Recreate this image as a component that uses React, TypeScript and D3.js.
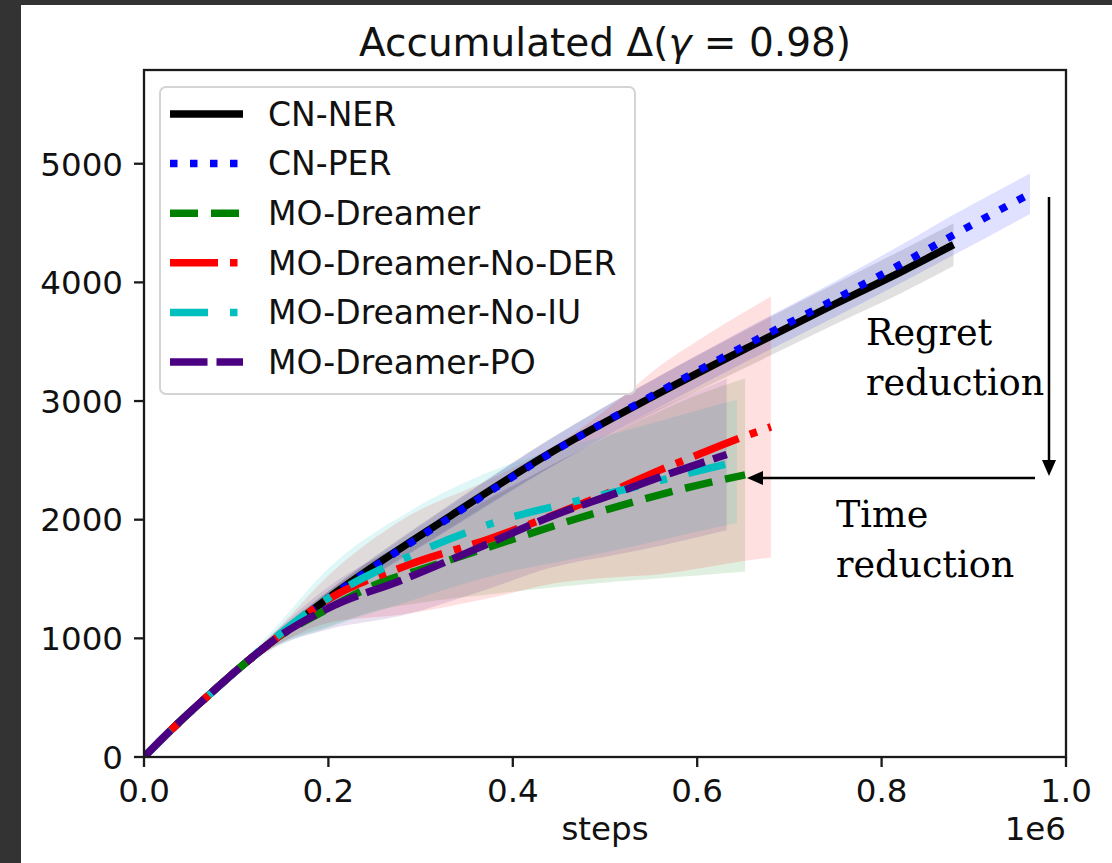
import React from 'react';
import * as d3 from 'd3';

// ---------- data ----------
const xTickValues = [0, 200000, 400000, 600000, 800000, 1000000];
const xTickLabels = ['0.0', '0.2', '0.4', '0.6', '0.8', '1.0'];
const yTickValues = [0, 1000, 2000, 3000, 4000, 5000];
const yTickLabels = ['0', '1000', '2000', '3000', '4000', '5000'];

const seriesNames = ['CN-NER', 'CN-PER', 'MO-Dreamer', 'MO-Dreamer-No-DER', 'MO-Dreamer-No-IU', 'MO-Dreamer-PO'];

const cnNerX = [0, 35000, 70000, 105000, 140000, 200000, 330000, 440000, 550000, 660000, 750000, 820000, 878000];
const cnNerY = [0, 270, 520, 760, 980, 1340, 2020, 2560, 3030, 3470, 3820, 4085, 4318];
const cnNerSd = [0, 10, 20, 30, 40, 60, 100, 120, 140, 160, 170, 180, 180];

const cnPerX = [0, 35000, 70000, 105000, 140000, 200000, 330000, 440000, 550000, 660000, 750000, 820000, 878000, 961000];
const cnPerY = [0, 270, 520, 760, 980, 1335, 2010, 2555, 3040, 3500, 3860, 4150, 4400, 4747];
const cnPerSd = [0, 10, 20, 30, 40, 60, 100, 120, 130, 140, 150, 160, 170, 170];

const modX = [0, 35000, 70000, 105000, 140000, 200000, 258000, 300000, 386000, 470000, 557000, 600000, 652000];
const modY = [0, 270, 520, 760, 980, 1250, 1475, 1580, 1800, 2010, 2205, 2290, 2378];
const modSd = [0, 5, 10, 25, 50, 150, 230, 280, 420, 560, 700, 760, 815];

const noDerX = [0, 35000, 70000, 105000, 140000, 200000, 280000, 375000, 451000, 516000, 560000, 600000, 640000, 680000];
const noDerY = [0, 270, 520, 760, 980, 1330, 1600, 1840, 2060, 2268, 2420, 2546, 2670, 2782];
const noDerSd = [0, 5, 10, 25, 60, 200, 400, 500, 590, 750, 880, 960, 1030, 1100];

const noIuX = [0, 35000, 70000, 105000, 140000, 200000, 290000, 390000, 460000, 540000, 600000, 643000];
const noIuY = [0, 270, 520, 760, 990, 1340, 1700, 2000, 2140, 2290, 2410, 2490];
const noIuSd = [0, 5, 10, 30, 80, 250, 380, 450, 480, 500, 510, 520];

const poX = [0, 35000, 70000, 105000, 140000, 200000, 280000, 370000, 440000, 513000, 560000, 608000, 632000];
const poY = [0, 270, 520, 760, 980, 1255, 1492, 1787, 2023, 2226, 2361, 2487, 2550];
const poSd = [0, 5, 10, 25, 60, 180, 300, 380, 430, 520, 580, 620, 640];

// ---------- layout ----------
const W = 1112;
const H = 863;
const PL = 144, PR = 1066, PT = 70, PB = 757;
const LW = 7.5;
const FONT = '"DejaVu Sans", sans-serif';

const styles = [
  { color: '#000000', dash: 'none' },
  { color: '#0000ff', dash: '7.5 12.5' },
  { color: '#008000', dash: '28 13' },
  { color: '#ff0000', dash: '48 12 7.5 12' },
  { color: '#00bfbf', dash: '38 22 7.5 22' },
  { color: '#4b0082', dash: '37.5 9' },
];

const seriesData = [
  { x: cnNerX, y: cnNerY, sd: cnNerSd },
  { x: cnPerX, y: cnPerY, sd: cnPerSd },
  { x: modX, y: modY, sd: modSd },
  { x: noDerX, y: noDerY, sd: noDerSd },
  { x: noIuX, y: noIuY, sd: noIuSd },
  { x: poX, y: poY, sd: poSd },
];

export default function App() {
  const x = d3.scaleLinear().domain([0, 1000000]).range([PL, PR]);
  const y = d3.scaleLinear().domain([0, 5790]).range([PB, PT]);

  const lines = seriesData.map((s) => {
    const line = d3
      .line<number>()
      .x((_, i) => x(s.x[i]))
      .y((d) => y(d))
      .curve(d3.curveMonotoneX);
    const area = d3
      .area<number>()
      .x((_, i) => x(s.x[i]))
      .y0((d, i) => y(d - s.sd[i]))
      .y1((d, i) => y(d + s.sd[i]))
      .curve(d3.curveMonotoneX);
    return { line: line(s.y) || '', area: area(s.y) || '' };
  });

  const legendX = 160, legendY = 87, legendW = 475, legendH = 307;
  const rowY = (i: number) => 114 + i * 49.6;

  return (
    <svg
      width={W}
      height={H}
      style={{ position: 'absolute', left: 0, top: 0, display: 'block' }}
      xmlns="http://www.w3.org/2000/svg"
    >
      <defs>
        <clipPath id="plotclip">
          <rect x={PL} y={PT} width={PR - PL} height={PB - PT} />
        </clipPath>
      </defs>
      <rect x={0} y={0} width={W} height={H} fill="#333333" />
      <rect x={21} y={5} width={W - 21} height={H - 5} fill="#ffffff" />

      <g clipPath="url(#plotclip)">
        {lines.map((l, i) => (
          <path key={'a' + i} d={l.area} fill={styles[i].color} fillOpacity={0.12} stroke="none" />
        ))}
        {lines.map((l, i) => (
          <path
            key={'l' + i}
            d={l.line}
            fill="none"
            stroke={styles[i].color}
            strokeWidth={LW}
            strokeDasharray={styles[i].dash}
            strokeLinecap="butt"
            strokeLinejoin="round"
          />
        ))}
      </g>

      <rect x={PL} y={PT} width={PR - PL} height={PB - PT} fill="none" stroke="#1a1a1a" strokeWidth={2.3} />

      {xTickValues.map((v, i) => (
        <g key={'xt' + i}>
          <line x1={x(v)} x2={x(v)} y1={PB} y2={PB + 10} stroke="#1a1a1a" strokeWidth={2.3} />
          <text x={x(v)} y={802} textAnchor="middle" fontFamily={FONT} fontSize={32.5} fill="#111">
            {xTickLabels[i]}
          </text>
        </g>
      ))}
      {yTickValues.map((v, i) => (
        <g key={'yt' + i}>
          <line x1={PL - 10} x2={PL} y1={y(v)} y2={y(v)} stroke="#1a1a1a" strokeWidth={2.3} />
          <text x={123} y={y(v) + 11.8} textAnchor="end" fontFamily={FONT} fontSize={32.5} fill="#111">
            {yTickLabels[i]}
          </text>
        </g>
      ))}

      <text x={(PL + PR) / 2} y={840} textAnchor="middle" fontFamily={FONT} fontSize={32.5} fill="#111">
        steps
      </text>
      <text x={PR} y={840} textAnchor="end" fontFamily={FONT} fontSize={32.5} fill="#111">
        1e6
      </text>

      <text x={(PL + PR) / 2} y={56} textAnchor="middle" fontFamily={FONT} fontSize={39} fill="#111">
        Accumulated Δ(<tspan fontStyle="italic">γ</tspan> = 0.98)
      </text>

      <rect
        x={legendX}
        y={legendY}
        width={legendW}
        height={legendH}
        rx={6}
        fill="#ffffff"
        fillOpacity={0.8}
        stroke="#d4d4d4"
        strokeWidth={2}
      />
      {seriesNames.map((name, i) => (
        <g key={'lg' + i}>
          <line
            x1={170}
            x2={243}
            y1={rowY(i)}
            y2={rowY(i)}
            stroke={styles[i].color}
            strokeWidth={LW}
            strokeDasharray={styles[i].dash}
            strokeLinecap="butt"
          />
          <text x={268} y={rowY(i) + 11.8} fontFamily={FONT} fontSize={33} fill="#111">
            {name}
          </text>
        </g>
      ))}

      <g fontFamily='"DejaVu Serif", serif' fontSize={36.5} fill="#000">
        <text x={866} y={345}>Regret</text>
        <text x={866} y={395}>reduction</text>
        <text x={836} y={527}>Time</text>
        <text x={836} y={577}>reduction</text>
      </g>
      <line x1={1049} x2={1049} y1={197} y2={462} stroke="#000" strokeWidth={2.5} />
      <path d="M1042,460 L1056,460 L1049,476 Z" fill="#000" />
      <line x1={1035} x2={760} y1={478} y2={478} stroke="#000" strokeWidth={2.5} />
      <path d="M763,471 L763,485 L747,478 Z" fill="#000" />
    </svg>
  );
}
